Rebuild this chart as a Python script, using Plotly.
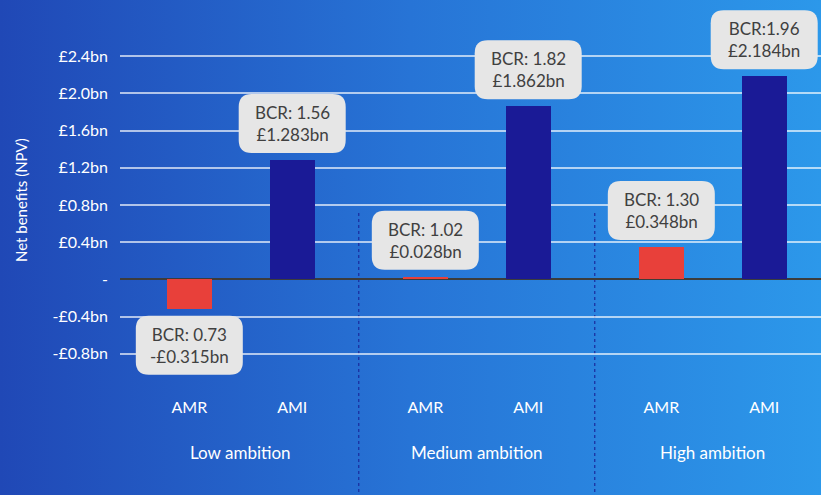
import base64
import plotly.graph_objects as go

# ---------------- data ----------------
groups = ["Low ambition", "Medium ambition", "High ambition"]
measures = ["AMR", "AMI"]
amr_values = [-0.315, 0.028, 0.348]
ami_values = [1.283, 1.862, 2.184]
amr_bcr = ["BCR: 0.73", "BCR: 1.02", "BCR: 1.30"]
ami_bcr = ["BCR: 1.56", "BCR: 1.82", "BCR:1.96"]
y_tickvals = [-0.8, -0.4, 0, 0.4, 0.8, 1.2, 1.6, 2.0, 2.4]
y_ticktext = ["-£0.8bn", "-£0.4bn", "-", "£0.4bn", "£0.8bn", "£1.2bn", "£1.6bn", "£2.0bn", "£2.4bn"]
y_title = "Net benefits (NPV)"

# ---------------- layout constants ----------------
W, H = 821, 495
ML, MR, MT, MB = 120, 0, 38, 122
PW, PH = W - ML - MR, H - MT - MB
OFF = 0.218          # offset of AMR / AMI from group centre (group units)
BARW = 0.19
XMIN = -0.5117
XMAX = XMIN + PW / 236.0
YMAX = 2.595
YMIN = YMAX - PH / 93.0

FONT = "Lato, 'Open Sans', sans-serif"
RED = "#E8403A"
NAVY = "#1A1A96"

def money(v):
    return ("-£" if v < 0 else "£") + f"{abs(v):.3f}bn"

def to_paper_x(x):
    return (x - XMIN) / (XMAX - XMIN)

def to_paper_y(y):
    return (y - YMIN) / (YMAX - YMIN)

x_amr = [g - OFF for g in range(len(groups))]
x_ami = [g + OFF for g in range(len(groups))]

fig = go.Figure()
fig.add_trace(go.Bar(x=x_amr, y=amr_values, width=BARW, name="AMR",
                     marker=dict(color=RED, line=dict(width=0)), hoverinfo="skip"))
fig.add_trace(go.Bar(x=x_ami, y=ami_values, width=BARW, name="AMI",
                     marker=dict(color=NAVY, line=dict(width=0)), hoverinfo="skip"))

# gradient background
svg = (f'<svg xmlns="http://www.w3.org/2000/svg" width="{W}" height="{H}" preserveAspectRatio="none">'
       '<defs><linearGradient id="g" x1="0" y1="0" x2="1" y2="0">'
       '<stop offset="0" stop-color="#2048B6"/><stop offset="0.5" stop-color="#2774D6"/>'
       '<stop offset="1" stop-color="#2C98EA"/></linearGradient></defs>'
       f'<rect width="{W}" height="{H}" fill="url(#g)"/></svg>')
src = "data:image/svg+xml;base64," + base64.b64encode(svg.encode()).decode()
fig.add_layout_image(dict(source=src, xref="paper", yref="paper",
                          x=-ML / PW, y=1 + MT / PH, sizex=W / PW, sizey=H / PH,
                          xanchor="left", yanchor="top", sizing="stretch", layer="below"))

# label boxes (rounded rectangles) + text
BW, BH, GAP, R = 107, 59, 7, 13

def rounded_path(y0, y1):
    x0, x1 = -BW / 2, BW / 2
    lo, hi = min(y0, y1), max(y0, y1)
    return (f"M {x0+R},{lo} L {x1-R},{lo} Q {x1},{lo} {x1},{lo+R} L {x1},{hi-R} "
            f"Q {x1},{hi} {x1-R},{hi} L {x0+R},{hi} Q {x0},{hi} {x0},{hi-R} "
            f"L {x0},{lo+R} Q {x0},{lo} {x0+R},{lo} Z")

for xs, vals, bcrs in [(x_amr, amr_values, amr_bcr), (x_ami, ami_values, ami_bcr)]:
    for x, v, b in zip(xs, vals, bcrs):
        sgn = 1 if v >= 0 else -1
        fig.add_shape(type="path", xref="paper", yref="paper", xsizemode="pixel", ysizemode="pixel",
                      xanchor=to_paper_x(x), yanchor=to_paper_y(v),
                      path=rounded_path(sgn * GAP, sgn * (GAP + BH)),
                      fillcolor="#E6E6E6", line=dict(width=0), layer="above")
        fig.add_annotation(x=x, y=v, xref="x", yref="y", text=f"{b}<br>{money(v)}",
                           showarrow=False, yshift=sgn * (GAP + BH / 2),
                           font=dict(family=FONT, size=17, color="#404040"),
                           xanchor="center", yanchor="middle", align="center")

# dotted group separators
for sx in [0.5, 1.5]:
    fig.add_shape(type="line", xref="x", yref="paper", x0=sx, x1=sx,
                  y0=(MT + PH - 213) / PH, y1=-(MB + 2) / PH,
                  line=dict(color="#1B2A9E", width=1.2, dash="dot"), layer="below")

# group labels
for i, g in enumerate(groups):
    fig.add_annotation(x=i, y=(MT + PH - 452) / PH, xref="x", yref="paper", text=g,
                       showarrow=False, font=dict(family=FONT, size=17, color="white"),
                       xanchor="center", yanchor="middle")

# y-axis title
fig.add_annotation(x=-(ML - 21) / PW, y=(MT + PH - 200) / PH, xref="paper", yref="paper",
                   text=y_title, textangle=-90, showarrow=False,
                   font=dict(family=FONT, size=15, color="white"),
                   xanchor="center", yanchor="middle")

fig.update_layout(
    width=W, height=H, margin=dict(l=ML, r=MR, t=MT, b=MB, pad=0),
    paper_bgcolor="rgba(0,0,0,0)", plot_bgcolor="rgba(0,0,0,0)",
    showlegend=False, bargap=0, font=dict(family=FONT, color="white"),
    xaxis=dict(range=[XMIN, XMAX], tickvals=x_amr + x_ami,
               ticktext=[measures[0]] * 3 + [measures[1]] * 3,
               showgrid=False, zeroline=False, showline=False, ticks="",
               tickfont=dict(family=FONT, size=16, color="white"), ticklabelstandoff=23),
    yaxis=dict(range=[YMIN, YMAX], tickvals=y_tickvals, ticktext=y_ticktext,
               showgrid=True, gridcolor="rgba(255,255,255,0.65)", gridwidth=1.5,
               zeroline=True, zerolinecolor="#3C3C3C", zerolinewidth=2,
               showline=False, ticks="", ticklabelstandoff=11,
               tickfont=dict(family=FONT, size=16, color="white")),
)

fig.write_html("out.html")
